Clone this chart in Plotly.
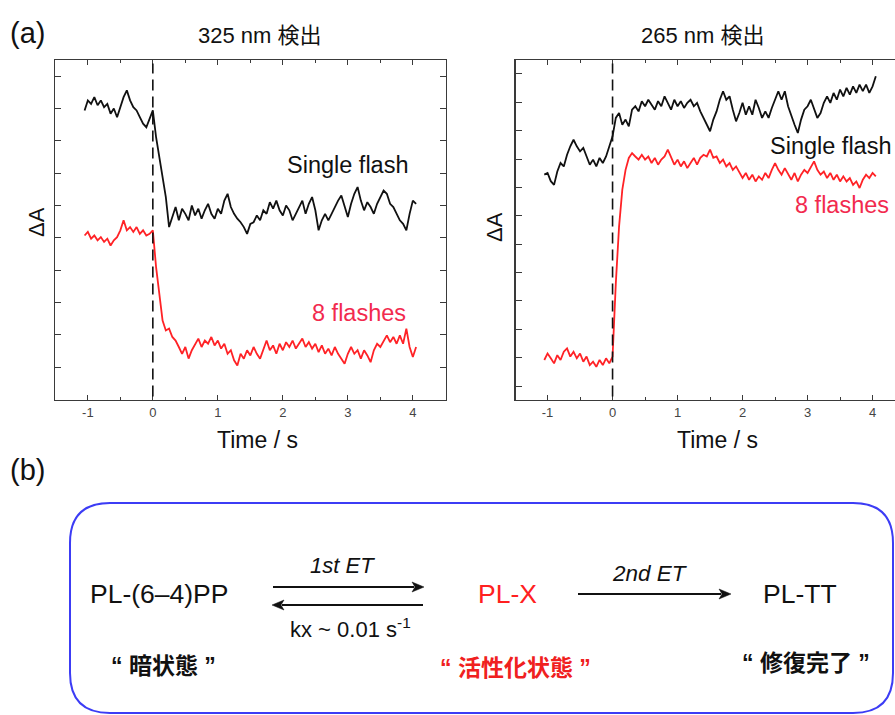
import numpy as np
import plotly.graph_objects as go

W, H = 895, 715

# ---------------- data ----------------
time_s = [round(-1.05 + 0.05 * i, 2) for i in range(103)]

left_single = [7.94, 8.25, 8.14, 8.35, 8.10, 8.25, 8.04, 8.14, 7.84, 8.00,
               7.73, 8.04, 8.35, 8.56, 8.25, 8.04, 7.94, 7.73, 7.53, 7.42,
               7.68, 7.94, 7.11, 6.50, 5.98, 5.26, 4.33, 4.64, 4.95, 4.54,
               4.90, 4.74, 4.54, 5.00, 4.69, 4.90, 4.59, 4.85, 5.05, 4.74,
               4.59, 4.90, 4.74, 5.15, 5.36, 4.95, 4.74, 4.59, 4.48, 4.33,
               4.12, 4.43, 4.48, 4.69, 4.54, 4.85, 4.74, 5.10, 4.90, 5.15,
               4.85, 4.69, 5.00, 4.85, 4.54, 4.74, 4.95, 5.15, 4.74, 5.05,
               5.26, 4.85, 4.23, 4.54, 4.74, 4.54, 4.74, 4.95, 5.15, 5.31,
               4.95, 4.64, 5.05, 5.36, 5.57, 5.15, 4.85, 5.10, 4.95, 4.74,
               5.05, 5.26, 5.46, 5.36, 5.05, 4.95, 4.74, 4.54, 4.43, 4.23,
               4.74, 5.15, 5.05]

left_eight = [4.07, 4.18, 3.97, 4.07, 3.92, 4.02, 3.87, 3.97, 3.76, 3.92,
              4.02, 4.23, 4.54, 4.23, 4.33, 4.18, 4.33, 4.12, 4.23, 4.07,
              4.12, 4.23, 3.09, 2.27, 1.44, 1.13, 1.19, 0.93, 0.82, 0.62,
              0.41, 0.62, 0.26, 0.52, 0.72, 0.88, 0.62, 0.82, 0.72, 0.93,
              0.67, 0.82, 0.57, 0.72, 0.41, 0.52, 0.21, 0.05, 0.41, 0.26,
              0.52, 0.36, 0.62, 0.41, 0.26, 0.57, 0.82, 0.52, 0.67, 0.41,
              0.72, 0.52, 0.77, 0.62, 0.82, 0.57, 0.72, 0.88, 0.62, 0.77,
              0.57, 0.72, 0.46, 0.67, 0.41, 0.57, 0.36, 0.62, 0.41, 0.26,
              0.10, 0.41, 0.62, 0.41, 0.52, 0.26, 0.52, 0.36, 0.15, 0.52,
              0.72, 0.62, 0.82, 0.98, 0.77, 0.93, 0.72, 0.98, 0.72, 1.19,
              0.62, 0.31, 0.62]

right_single = [7.45, 7.51, 7.22, 7.09, 7.56, 7.86, 7.74, 8.15, 8.45, 8.68,
                8.45, 8.27, 8.39, 8.09, 7.80, 7.98, 7.74, 8.04, 7.86, 8.09,
                8.45, 8.80, 9.45, 9.62, 9.21, 9.39, 9.15, 9.74, 9.86, 9.68,
                10.04, 9.86, 10.09, 9.92, 9.74, 10.04, 9.86, 10.21, 9.98, 9.74,
                10.09, 9.86, 10.04, 9.80, 9.98, 10.09, 9.86, 9.98, 9.68, 9.45,
                9.21, 8.98, 9.39, 9.68, 10.09, 10.39, 10.09, 10.21, 9.74, 9.33,
                9.62, 9.98, 9.56, 9.86, 9.56, 10.09, 9.80, 9.45, 9.68, 9.45,
                9.80, 10.09, 10.39, 10.09, 10.39, 9.86, 9.51, 9.21, 8.92, 9.39,
                9.74, 9.86, 10.09, 9.74, 9.45, 9.62, 9.98, 10.21, 9.98, 10.33,
                10.09, 10.45, 10.21, 10.51, 10.27, 10.56, 10.33, 10.62, 10.39, 10.62,
                10.33, 10.56, 10.92]

right_eight = [0.92, 1.15, 0.98, 0.80, 1.09, 0.92, 1.21, 1.33, 1.04, 1.21,
               0.98, 1.15, 0.86, 1.04, 0.74, 0.86, 0.68, 0.92, 0.74, 0.98,
               0.80, 1.04, 3.62, 5.62, 6.92, 7.62, 8.04, 8.21, 8.09, 7.98,
               8.15, 7.98, 8.09, 7.86, 8.04, 7.80, 7.98, 8.09, 8.33, 8.04,
               7.80, 7.98, 7.74, 7.92, 7.68, 7.86, 8.04, 7.80, 8.04, 8.15,
               8.09, 8.33, 8.04, 8.09, 7.86, 7.98, 7.74, 7.86, 7.62, 7.74,
               7.51, 7.33, 7.51, 7.27, 7.45, 7.21, 7.39, 7.27, 7.51, 7.33,
               7.62, 7.86, 7.62, 7.45, 7.68, 7.45, 7.27, 7.51, 7.21, 7.45,
               7.62, 7.51, 7.74, 7.92, 7.62, 7.45, 7.56, 7.33, 7.51, 7.27,
               7.45, 7.21, 7.39, 7.21, 7.33, 7.09, 7.21, 6.98, 7.27, 7.45,
               7.33, 7.51, 7.39]

x_ticks = [-1, 0, 1, 2, 3, 4]
left_y_ticks = list(range(0, 10))
right_y_ticks = list(range(0, 12))

# ---------------- helpers ----------------
def px(x):
    return x / W

def py(y):
    return 1 - y / H

FONT = "Liberation Sans, Arial, Noto Sans CJK JP, sans-serif"
BLACK = "#111111"
RED = "#ff2226"
LABEL_RED = "#f22a4e"
AXIS = "#3a3a3a"

fig = go.Figure()

for xs, ys, col, xa, ya in ((time_s, left_single, BLACK, "x", "y"),
                            (time_s, left_eight, RED, "x", "y"),
                            (time_s, right_single, BLACK, "x2", "y2"),
                            (time_s, right_eight, RED, "x2", "y2")):
    fig.add_trace(go.Scatter(x=xs, y=ys, mode="lines",
                             line=dict(color=col, width=1.8), xaxis=xa, yaxis=ya,
                             showlegend=False, hoverinfo="skip"))

xcommon = dict(showgrid=False, zeroline=False, showline=True, linecolor=AXIS,
               linewidth=1.3, ticks="inside", ticklen=5, tickcolor=AXIS,
               tickvals=x_ticks, ticktext=[str(v) for v in x_ticks],
               tickfont=dict(family=FONT, size=13, color="#444"),
               minor=dict(dtick=0.5, tick0=0, ticks="inside", ticklen=3,
                          tickcolor=AXIS, showgrid=False),
               mirror="ticks", fixedrange=True)
ycommon = dict(showgrid=False, zeroline=False, showline=True, linecolor=AXIS,
               linewidth=1.3, ticks="inside", ticklen=6, tickcolor=AXIS,
               showticklabels=False, fixedrange=True)

ydom = [py(400), py(60)]
fig.update_layout(
    width=W, height=H,
    margin=dict(l=0, r=0, t=0, b=0),
    paper_bgcolor="white", plot_bgcolor="white",
    xaxis=dict(**xcommon, domain=[px(55), px(446)], range=[-1.505, 4.51], anchor="y"),
    yaxis=dict(**ycommon, domain=ydom, range=[-1.02, 9.5], tickvals=left_y_ticks,
               mirror="ticks", anchor="x"),
    xaxis2=dict(**xcommon, domain=[px(515.7), 1.0], range=[-1.49, 4.345], anchor="y2"),
    yaxis2=dict(**ycommon, domain=ydom, range=[-0.49, 11.49], tickvals=right_y_ticks,
                mirror=False, anchor="x2"),
)

shapes = []
for xr, yr in (("x", "y domain"), ("x2", "y2 domain")):
    shapes.append(dict(type="line", xref=xr, yref=yr, x0=0, x1=0, y0=0.01, y1=0.99,
                       line=dict(color="#111", width=1.6, dash="11px,6px")))

# rounded box for (b)
x0, x1, y0, y1, r = 70, 893, 503, 713, 40
path = (f"M {px(x0 + r)},{py(y0)} L {px(x1 - r)},{py(y0)} "
        f"Q {px(x1)},{py(y0)} {px(x1)},{py(y0 + r)} "
        f"L {px(x1)},{py(y1 - r)} Q {px(x1)},{py(y1)} {px(x1 - r)},{py(y1)} "
        f"L {px(x0 + r)},{py(y1)} Q {px(x0)},{py(y1)} {px(x0)},{py(y1 - r)} "
        f"L {px(x0)},{py(y0 + r)} Q {px(x0)},{py(y0)} {px(x0 + r)},{py(y0)} Z")
shapes.append(dict(type="path", xref="paper", yref="paper", path=path,
                   line=dict(color="#3c3cf5", width=2)))

# horizontal arrows of the scheme: shaft + filled triangular head
def arrow(tail_x, head_x, y, head_len=12, half_w=5):
    d = 1 if head_x > tail_x else -1
    base = head_x - d * head_len
    shapes.append(dict(type="line", xref="paper", yref="paper",
                       x0=px(tail_x), x1=px(base + d * 2), y0=py(y), y1=py(y),
                       line=dict(color="#111", width=1.8)))
    tri = (f"M {px(head_x)},{py(y)} L {px(base)},{py(y - half_w)} "
           f"L {px(base + d * 3)},{py(y)} L {px(base)},{py(y + half_w)} Z")
    shapes.append(dict(type="path", xref="paper", yref="paper", path=tri,
                       fillcolor="#111", line=dict(color="#111", width=0.5)))

arrow(273, 424, 587)
arrow(423, 272, 605)
arrow(578, 731, 594)

fig.update_layout(shapes=shapes)

ann = []

def text(x, y, s, size, color=BLACK, xanchor="center", angle=0, family=FONT):
    ann.append(dict(x=px(x), y=py(y), xref="paper", yref="paper", text=s,
                    showarrow=False, xanchor=xanchor, yanchor="middle",
                    textangle=angle, font=dict(family=family, size=size, color=color)))

text(8, 33, "(a)", 29, xanchor="left")
text(8, 470, "(b)", 29, xanchor="left")
text(260, 36, "325 nm 検出", 22)
text(703, 36, "265 nm 検出", 22)
text(257, 440, "Time / s", 23)
text(717, 440, "Time / s", 23)
text(37, 222, "ΔA", 22, angle=-90)
text(494, 227, "ΔA", 22, angle=-90)
text(411, 165, "Single flash", 23.5, xanchor="right")
text(408, 313, "8 flashes", 23.5, color=LABEL_RED, xanchor="right")
text(894, 146, "Single flash", 23.5, xanchor="right")
text(891, 205, "8 flashes", 23.5, color=LABEL_RED, xanchor="right")

# scheme (b)
text(159, 594, "PL-(6–4)PP", 26.5)
text(342, 565, "<i>1st ET</i>", 22)
text(350, 628, "kx ~ 0.01 s<sup>-1</sup>", 22)
text(508, 594, "PL-X", 26.5, color="#ff2020")
text(650, 573, "<i>2nd ET</i>", 22.5)
text(800, 594, "PL-TT", 26.5)
text(163, 666, "<b>“ 暗状態 ”</b>", 23)
text(515, 668, "<b>“ 活性化状態 ”</b>", 23, color="#f02020")
text(806, 663, "<b>“ 修復完了 ”</b>", 23)

fig.update_layout(annotations=ann)

fig.write_html("out.html",
               config={"displayModeBar": False, "staticPlot": True},
               post_script="document.body.style.margin='0';"
                           "document.body.style.overflow='hidden';")
